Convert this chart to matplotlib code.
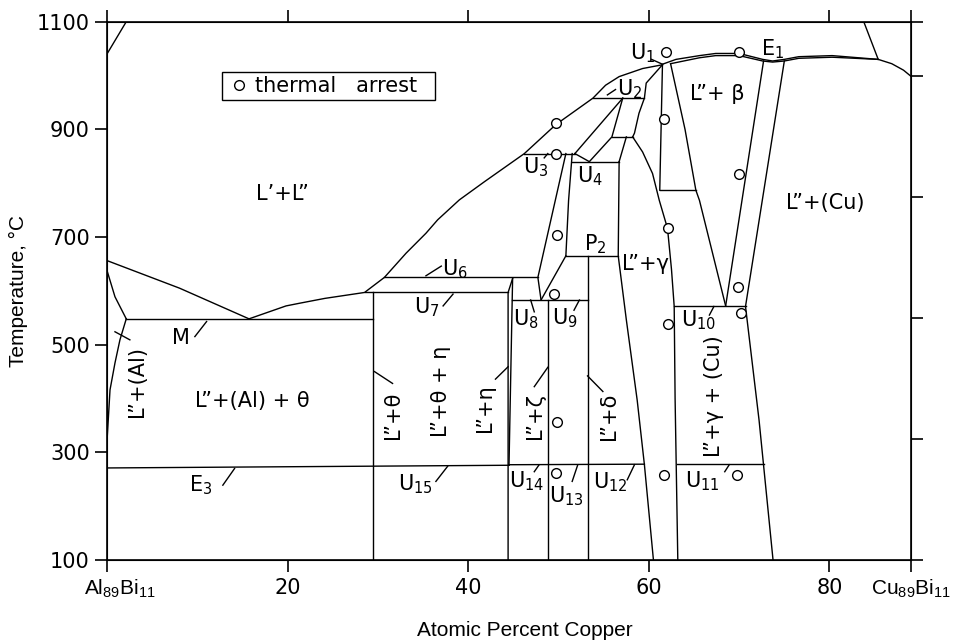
import matplotlib
matplotlib.use("Agg")
import matplotlib.pyplot as plt

plt.rcParams['font.family'] = ['DejaVu Sans']
plt.rcParams['mathtext.default'] = 'regular'

# phase boundaries, x = at.% Cu, y = temperature (C)
gap_left_x = [0, 2.1]
gap_left_t = [1041, 1100]
gap_right_x = [83.8, 85.4]
gap_right_t = [1100, 1030]

al_liq_x = [0, 8.0, 15.7]
al_liq_t = [656, 605, 548]
al_liq2_x = [0, 0.85, 2.1]
al_liq2_t = [636, 589, 548]
al_solvus_x = [0, 0.3, 0.85, 1.4, 2.1]
al_solvus_t = [330, 416, 466, 509, 548]

liq_x = [15.7, 19.8, 21.3, 24.1, 28.5, 30.7, 33.1, 35.3, 36.6, 39.0, 41.8, 46.2, 49.7, 53.8, 55.2, 56.7, 59.3, 61.5]
liq_t = [548, 572, 577, 586, 597, 625, 670, 707, 732, 769, 803, 855, 909, 958, 982, 998, 1013, 1020]

top_up_x = [61.5, 63.0, 65.6, 67.4, 70.0, 72.6, 73.7, 75.0, 76.6, 80.3, 85.4, 86.9, 88.2, 89.0]
top_up_t = [1021, 1030, 1037, 1041, 1041, 1030, 1027, 1030, 1035, 1037, 1030, 1022, 1010, 999]
top_lo_x = [62.4, 65.6, 67.4, 70.0, 72.6, 73.7, 75.0, 76.6, 80.3, 85.4]
top_lo_t = [1022, 1033, 1037, 1037, 1027, 1025, 1027, 1032, 1034, 1030]

# invariant (horizontal) lines: x1, x2, t1, t2
invariants = [
    (2.1, 29.4, 548, 548),     # M
    (30.7, 47.7, 625, 625),    # U6
    (28.5, 44.4, 597, 597),    # U7
    (44.85, 53.3, 583, 583),   # U8, U9
    (50.8, 56.6, 665, 665),    # P2
    (46.2, 51.8, 855, 855),    # U3
    (51.5, 56.7, 840, 840),    # U4
    (53.8, 59.5, 958, 958),    # U2
    (55.9, 58.2, 886, 886),
    (61.2, 65.2, 787, 787),
    (62.8, 70.7, 571, 571),    # U10
    (0, 44.5, 271, 276),       # E3, U15
    (44.5, 59.5, 277, 278),    # U14, U13, U12
    (63.1, 72.8, 278, 278),    # U11
]

# other boundaries: list of (x list, t list)
boundaries = [
    ([29.4, 29.4], [100, 597]),
    ([44.4, 44.4, 44.9], [100, 597, 623]),
    ([44.9, 44.5], [623, 276]),
    ([48.8, 48.8], [100, 583]),
    ([53.3, 53.3], [100, 665]),
    ([50.8, 47.7, 48.05], [855, 625, 583]),
    ([51.5, 51.1, 50.8], [855, 768, 665]),
    ([50.8, 48.05], [665, 583]),
    ([51.8, 53.4], [855, 840]),
    ([57.1, 51.8], [958, 855]),
    ([57.1, 55.9, 53.4], [958, 886, 840]),
    ([56.7, 57.5], [840, 886]),
    ([56.7, 56.6, 57.5, 58.7, 59.5, 60.5], [840, 665, 546, 397, 277, 100]),
    ([61.5, 59.7, 59.5, 58.9, 58.4, 58.2], [1020, 986, 958, 930, 893, 886]),
    ([58.2, 59.3, 60.4, 61.15, 62.06, 62.5, 62.8, 62.9, 63.2], [886, 858, 818, 768, 716, 640, 571, 400, 100]),
    ([61.5, 61.2], [1020, 787]),
    ([62.4, 64.0, 65.2, 65.6, 68.5], [1022, 900, 787, 768, 572]),
    ([72.7, 68.5], [1027, 572]),
    ([75.0, 70.7, 72.2, 73.75], [1027, 571, 360, 100]),
]

arrest_x = [61.9, 70.0, 61.7, 70.0, 49.7, 49.7, 49.8, 49.5, 62.1, 69.9, 70.2, 62.1, 49.8, 49.7, 61.7, 69.8]
arrest_t = [1044, 1043, 919, 818, 911, 854, 704, 594, 716, 608, 558, 538, 357, 261, 258, 258]

# labels: text, x, t, rotation
labels = [
    ("L’+L”", 19.4, 780, 0),
    ("L”+(Al) + θ", 16.1, 396, 0),
    ("M", 8.2, 513, 0),
    ("$E_3$", 10.4, 239, 0),
    ("L”+(Al)", 3.25, 431, 90),
    ("L”+θ", 31.6, 368, 90),
    ("L”+θ + η", 37.0, 413, 90),
    ("L”+η", 41.8, 383, 90),
    ("L”+ζ", 47.4, 367, 90),
    ("L”+δ", 55.6, 367, 90),
    ("L”+γ + (Cu)", 67.2, 405, 90),
    ("L”+γ", 59.6, 650, 0),
    ("L”+ β", 67.6, 966, 0),
    ("L”+(Cu)", 79.5, 764, 0),
    ("$E_1$", 73.7, 1048, 0),
    ("$P_2$", 54.1, 686, 0),
    ("$U_1$", 59.3, 1042, 0),
    ("$U_2$", 57.9, 975, 0),
    ("$U_3$", 47.5, 829, 0),
    ("$U_4$", 53.45, 813, 0),
    ("$U_6$", 38.5, 641, 0),
    ("$U_7$", 35.4, 570, 0),
    ("$U_8$", 46.4, 547, 0),
    ("$U_9$", 50.7, 550, 0),
    ("$U_{10}$", 65.5, 546, 0),
    ("$U_{11}$", 65.95, 247, 0),
    ("$U_{12}$", 55.7, 244, 0),
    ("$U_{13}$", 50.9, 219, 0),
    ("$U_{14}$", 46.5, 247, 0),
    ("$U_{15}$", 34.1, 241, 0),
]

# short leader lines: x1, t1, x2, t2
leaders = [
    (9.7, 515, 11.0, 543), (12.8, 239, 14.1, 270), (0.85, 524, 2.5, 509),
    (35.3, 628, 37.0, 646), (37.2, 572, 38.3, 594), (46.9, 583, 47.3, 561),
    (52.3, 583, 51.7, 564), (66.7, 555, 67.2, 571), (68.4, 264, 68.9, 277),
    (57.6, 249, 58.4, 277), (51.5, 246, 52.1, 276), (47.3, 264, 47.8, 276),
    (36.4, 246, 37.7, 274), (55.4, 964, 56.3, 974), (48.4, 847, 48.8, 855),
    (60.3, 1030, 61.5, 1021),
    (29.6, 450, 31.6, 428), (43.0, 436, 44.4, 459), (47.3, 422, 48.8, 458),
    (53.2, 442, 54.9, 413),
]

x_ticks = [0, 20, 40, 60, 80, 89]
x_ticklabels = ["", "20", "40", "60", "80", ""]
y_ticks = [100, 300, 500, 700, 900, 1100]
right_ticks = [100, 325, 550, 775, 1000, 1100]

fig = plt.figure(figsize=(9.55, 6.44), dpi=100)
ax = fig.add_axes([107.3 / 955, 1 - 560 / 644, 803.4 / 955, 538.3 / 644])
lw = 1.0
k = "black"

ax.plot(gap_left_x, gap_left_t, color=k, lw=lw)
ax.plot(gap_right_x, gap_right_t, color=k, lw=lw)
ax.plot(al_liq_x, al_liq_t, color=k, lw=lw)
ax.plot(al_liq2_x, al_liq2_t, color=k, lw=lw)
ax.plot(al_solvus_x, al_solvus_t, color=k, lw=lw)
ax.plot(liq_x, liq_t, color=k, lw=lw)
ax.plot(top_up_x, top_up_t, color=k, lw=lw)
ax.plot(top_lo_x, top_lo_t, color=k, lw=lw)
for x1, x2, t1, t2 in invariants:
    ax.plot([x1, x2], [t1, t2], color=k, lw=lw)
for bx, bt in boundaries:
    ax.plot(bx, bt, color=k, lw=lw)
for x1, t1, x2, t2 in leaders:
    ax.plot([x1, x2], [t1, t2], color=k, lw=lw)

ax.plot(arrest_x, arrest_t, "o", ms=7, mfc="white", mec=k, mew=1.0,
        ls="none", label="thermal   arrest  ")

for txt, x, t, rot in labels:
    ax.text(x, t, txt, rotation=rot, ha="center", va="center", fontsize=15)

ax.set_xlim(0, 89)
ax.set_ylim(100, 1100)
for s in ax.spines.values():
    s.set_linewidth(1.2)

ax.set_xticks(x_ticks)
ax.set_xticklabels(x_ticklabels, fontsize=15)
ax.set_yticks(y_ticks)
ax.set_yticklabels([str(v) for v in y_ticks], fontsize=15)
ax.tick_params(axis="both", direction="out", length=8.6, width=1.2, pad=4, top=True)
ax2 = ax.twinx()
ax2.set_ylim(100, 1100)
ax2.set_yticks(right_ticks)
ax2.set_yticklabels([])
ax2.tick_params(axis="y", direction="out", length=8.6, width=1.2)

ax.annotate("$Al_{89}Bi_{11}$", xy=(0, 100), xytext=(-17, -13), textcoords="offset points",
            ha="left", va="top", fontsize=15, family="Liberation Sans")
ax.annotate("$Cu_{89}Bi_{11}$", xy=(89, 100), xytext=(0, -13), textcoords="offset points",
            ha="center", va="top", fontsize=15, family="Liberation Sans")

leg = ax.legend(loc="upper left", bbox_to_anchor=(0.1424, 0.9071), borderaxespad=0,
                fancybox=False, edgecolor=k, framealpha=1, handlelength=1.3,
                handletextpad=0.1, borderpad=0.2, prop={"size": 15})
leg.get_frame().set_linewidth(1.0)

fig.text(18 / 955, 1 - 291 / 644, "Temperature, °C", rotation=90, ha="center", va="center",
         fontsize=15, family="Liberation Sans")
fig.text(525 / 955, 1 - 630 / 644, "Atomic Percent Copper", ha="center", va="center",
         fontsize=15, family="Liberation Sans")

fig.savefig("out.png", dpi=100)
